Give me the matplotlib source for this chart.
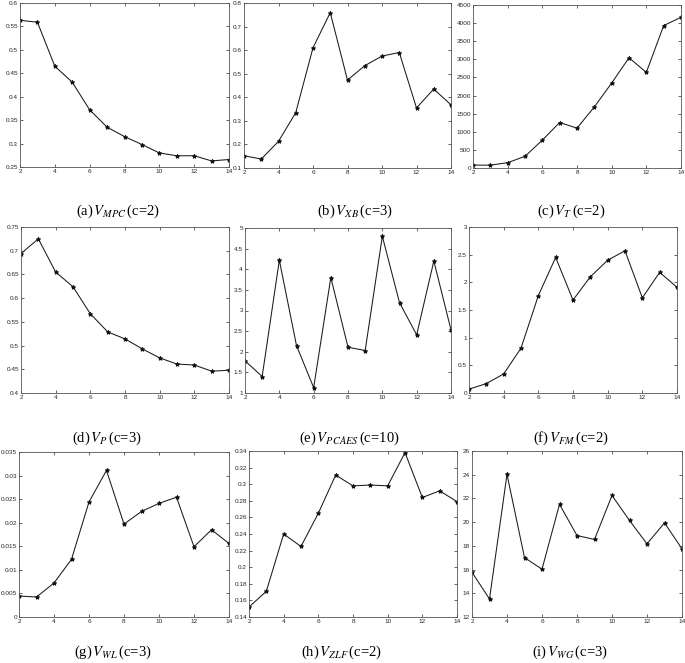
import matplotlib
matplotlib.use("Agg")
import matplotlib.pyplot as plt
from matplotlib.ticker import FormatStrFormatter, FixedLocator
import numpy as np

plt.rcParams['mathtext.fontset'] = 'stix'

# ---------------- data ----------------
clusters = [2, 3, 4, 5, 6, 7, 8, 9, 10, 11, 12, 13, 14]

v_mpc = [0.563, 0.559, 0.465, 0.431, 0.372, 0.335, 0.315, 0.298, 0.280, 0.274, 0.274, 0.263, 0.266]
v_xb = [0.152, 0.138, 0.213, 0.335, 0.610, 0.759, 0.473, 0.534, 0.575, 0.590, 0.355, 0.435, 0.368]
v_t = [80, 78, 147, 321, 770, 1256, 1100, 1686, 2346, 3043, 2640, 3932, 4160]
v_p = [0.694, 0.725, 0.655, 0.624, 0.567, 0.529, 0.514, 0.493, 0.474, 0.461, 0.459, 0.446, 0.448]
v_pcaes = [1.78, 1.40, 4.22, 2.15, 1.13, 3.80, 2.11, 2.03, 4.80, 3.19, 2.41, 4.20, 2.53]
v_fm = [0.07, 0.17, 0.345, 0.81, 1.76, 2.45, 1.68, 2.10, 2.40, 2.57, 1.72, 2.18, 1.91]
v_wl = [0.00445, 0.00424, 0.00721, 0.01224, 0.0244, 0.0311, 0.0197, 0.0224, 0.0241, 0.0254, 0.0149, 0.0185, 0.0156]
v_zlf = [0.152, 0.171, 0.240, 0.225, 0.265, 0.311, 0.298, 0.299, 0.298, 0.338, 0.284, 0.292, 0.279]
v_wg = [15.77, 13.52, 24.03, 17.01, 16.03, 21.5, 18.87, 18.54, 22.25, 20.14, 18.17, 19.94, 17.75]

x_ticks = [2, 4, 6, 8, 10, 12, 14]

yticks_mpc = [0.25, 0.3, 0.35, 0.4, 0.45, 0.5, 0.55, 0.6]
yticks_xb = [0.1, 0.2, 0.3, 0.4, 0.5, 0.6, 0.7, 0.8]
yticks_t = [0, 500, 1000, 1500, 2000, 2500, 3000, 3500, 4000, 4500]
yticks_p = [0.4, 0.45, 0.5, 0.55, 0.6, 0.65, 0.7, 0.75]
yticks_pcaes = [1, 1.5, 2, 2.5, 3, 3.5, 4, 4.5, 5]
yticks_fm = [0, 0.5, 1, 1.5, 2, 2.5, 3]
yticks_wl = [0, 0.005, 0.01, 0.015, 0.02, 0.025, 0.03, 0.035]
yticks_zlf = [0.14, 0.16, 0.18, 0.2, 0.22, 0.24, 0.26, 0.28, 0.3, 0.32, 0.34]
yticks_wg = [12, 14, 16, 18, 20, 22, 24, 26]

captions = [r'(a)$\,V_{MPC}\,$(c=2)', r'(b)$\,V_{XB}\,$(c=3)', r'(c)$\,V_{T}\,$(c=2)',
            r'(d)$\,V_{P}\,$(c=3)', r'(e)$\,V_{PCAES}\,$(c=10)', r'(f)$\,V_{FM}\,$(c=2)',
            r'(g)$\,V_{WL}\,$(c=3)', r'(h)$\,V_{ZLF}\,$(c=2)', r'(i)$\,V_{WG}\,$(c=3)']

series = [v_mpc, v_xb, v_t, v_p, v_pcaes, v_fm, v_wl, v_zlf, v_wg]
yticks = [yticks_mpc, yticks_xb, yticks_t, yticks_p, yticks_pcaes, yticks_fm,
          yticks_wl, yticks_zlf, yticks_wg]

# ---------------- layout (pixels: left, right, top, bottom) ----------------
W, H = 685, 663
boxes = [(20, 229, 3, 167), (244, 451, 3, 168), (473, 681, 5, 168),
         (21, 229, 227, 393), (245, 451, 228, 393), (469, 677, 227, 393),
         (19, 229, 452, 617), (249, 457, 451, 617), (472, 682, 451, 617)]
cap_pos = [(118, 211), (355, 211), (571, 211),
           (107, 438), (349, 438), (571, 438),
           (113, 652), (342, 652), (570, 652)]

fig = plt.figure(figsize=(W / 100, H / 100), dpi=100)
fig.patch.set_facecolor('white')

spine_col = '#262626'
for k in range(9):
    L, R, T, B = boxes[k]
    ax = fig.add_axes([L / W, 1 - B / H, (R - L) / W, (B - T) / H])
    ax.plot(clusters, series[k], color='#1a1a1a', lw=0.75, marker='*',
            markersize=3.2, markerfacecolor='#111111', markeredgecolor='#111111',
            markeredgewidth=0.7)
    yt = yticks[k]
    ax.set_xlim(2, 14)
    ax.set_ylim(yt[0], yt[-1])
    ax.xaxis.set_major_locator(FixedLocator(x_ticks))
    ax.yaxis.set_major_locator(FixedLocator(yt))
    ax.yaxis.set_major_formatter(FormatStrFormatter('%g'))
    ax.xaxis.set_major_formatter(FormatStrFormatter('%g'))
    ax.tick_params(direction='in', length=2, width=0.5, labelsize=4.6,
                   colors=spine_col, top=True, right=True, pad=1.5)
    for lab in ax.get_xticklabels() + ax.get_yticklabels():
        lab.set_fontfamily('Liberation Sans')
    for s in ax.spines.values():
        s.set_linewidth(0.6)
        s.set_color('#555555')
    cx, cy = cap_pos[k]
    fig.text(cx / W, 1 - cy / H, captions[k], ha='center', va='center',
             fontsize=10.5, family='Liberation Serif')

fig.savefig('out.png', dpi=100, facecolor='white')
